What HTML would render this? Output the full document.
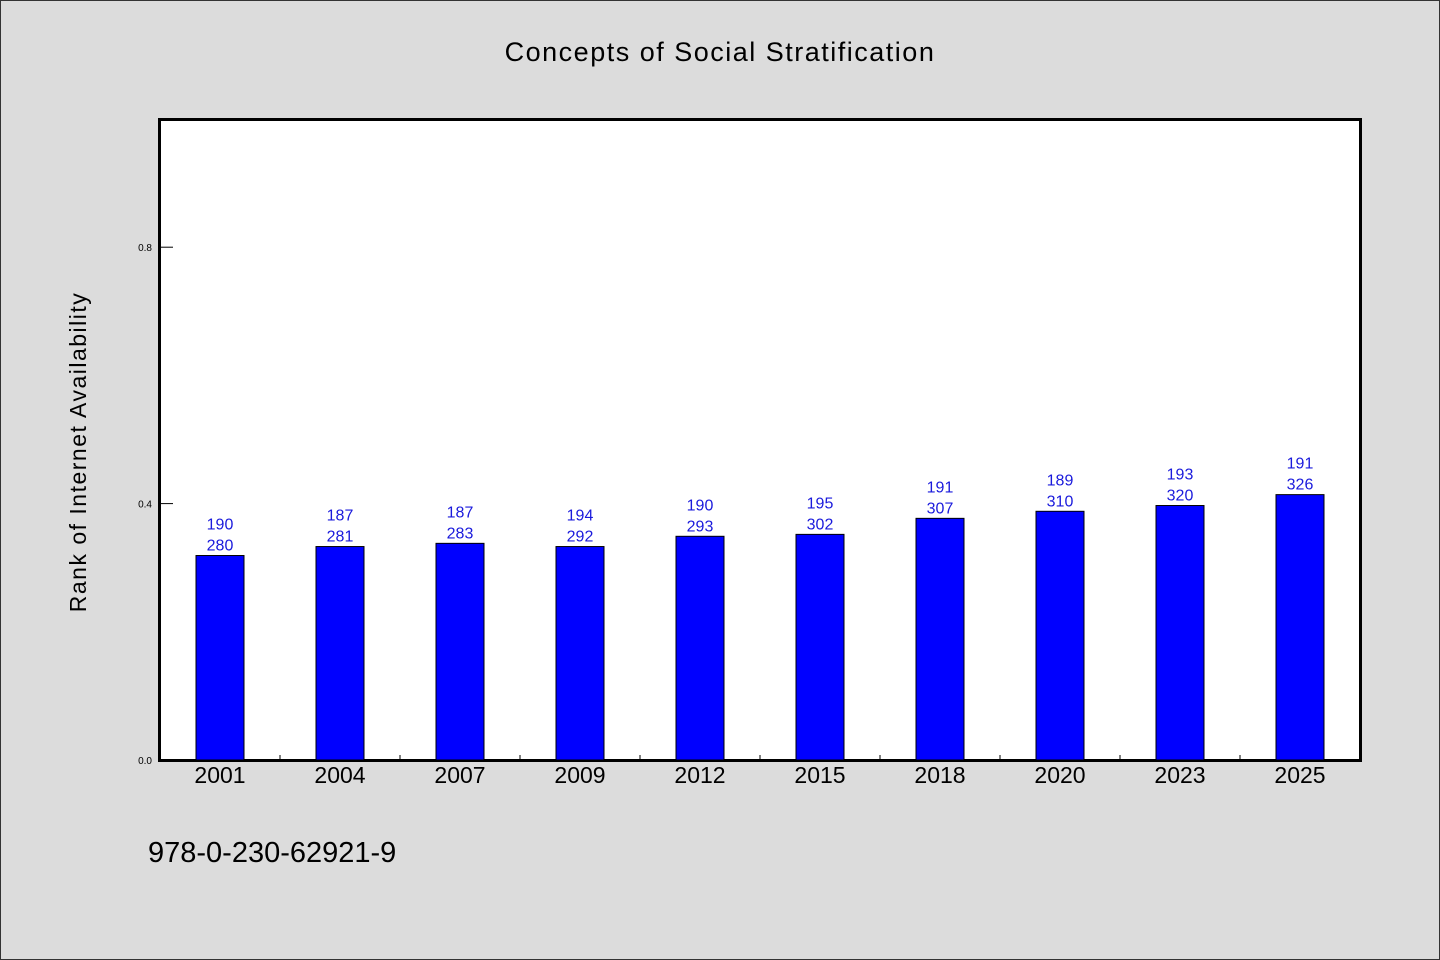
<!DOCTYPE html>
<html><head><meta charset="utf-8"><style>
body{margin:0;background:#dcdcdc;}
svg{display:block;font-family:"WenQuanYi Zen Hei","Liberation Sans",sans-serif;}
</style></head><body>
<svg id="chart" width="1440" height="960">
<rect x="0.5" y="0.5" width="1439" height="959" fill="#dcdcdc" stroke="#333"/>
<text x="720" y="61" text-anchor="middle" font-size="27" letter-spacing="1.5">Concepts of Social Stratification</text>
<rect x="159.5" y="119.5" width="1201" height="641" fill="#fff" stroke="#000" stroke-width="3"/>
<text transform="translate(86,452) rotate(-90)" text-anchor="middle" font-size="23" letter-spacing="1.5">Rank of Internet Availability</text>
<text x="148" y="862" font-size="29">978-0-230-62921-9</text>
<g id="marks"></g>
</svg>
<script>
const categories=["2001","2004","2007","2009","2012","2015","2018","2020","2023","2025"];
const values=[0.319,0.333,0.338,0.333,0.349,0.352,0.377,0.388,0.397,0.414];
const labelTop=["190","187","187","194","190","195","191","189","193","191"];
const labelBottom=["280","281","283","292","293","302","307","310","320","326"];
const yTicks=[0,0.4,0.8];
const yTickLabels=["0.0","0.4","0.8"];
const X0=160,X1=1360,Y0=760,Y1=119,YMAX=1.0;
const y=v=>Y0-(v/YMAX)*(Y0-Y1);
const band=(X1-X0)/categories.length;
const xc=i=>X0+band*(i+0.5);
const g=document.getElementById('marks');
const NS='http://www.w3.org/2000/svg';
function mk(t,a){const e=document.createElementNS(NS,t);for(const k in a)e.setAttribute(k,a[k]);g.appendChild(e);return e;}
yTicks.forEach((v,i)=>{
 const l=mk('line',{x1:160,x2:173,y1:y(v),y2:y(v),stroke:'#000','stroke-width':1});
 
 
 const t=mk('text',{x:152,y:y(v)+4,'text-anchor':'end','font-size':10});
 t.textContent=yTickLabels[i];
 
 
});
categories.forEach((c,i)=>{
 if(i>0){const l=mk('line',{x1:X0+band*i,x2:X0+band*i,y1:760,y2:755,stroke:'#000'});
 
 }
 const b=mk('rect',{x:xc(i)-24,y:y(values[i]),width:48,height:Y0-y(values[i]),fill:'#0000ff',stroke:'#000','stroke-width':1});
 
 
 const t1=mk('text',{x:xc(i),y:y(values[i])-26,'text-anchor':'middle','font-size':16,fill:'#1a1adc'});
 t1.textContent=labelTop[i];
 
 
 const t2=mk('text',{x:xc(i),y:y(values[i])-5,'text-anchor':'middle','font-size':16,fill:'#1a1adc'});
 t2.textContent=labelBottom[i];
 
 
 const xl=mk('text',{x:xc(i),y:783,'text-anchor':'middle','font-size':23});
 xl.textContent=c;
 
 
});
</script>
</body></html>
